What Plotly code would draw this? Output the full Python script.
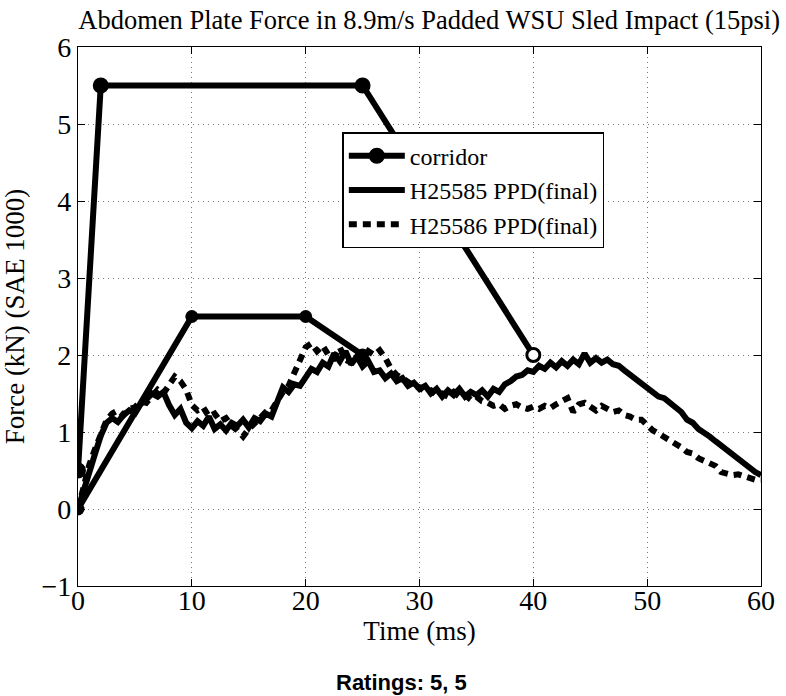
import plotly.graph_objects as go

# Corridor outline (time in ms, force in kN)
corridor_upper_t = [0, 2, 25, 40]
corridor_upper_f = [0.5, 5.5, 5.5, 2.0]
corridor_lower_t = [0, 10, 20, 25]
corridor_lower_f = [0.0, 2.5, 2.5, 2.0]

# Sample times (ms) for the two test traces
time_ms = [i * 0.5 for i in range(121)]

h25585 = [
    0.00, 0.22, 0.45, 0.72, 0.95, 1.12, 1.18, 1.13, 1.22, 1.28,
    1.24, 1.36, 1.42, 1.50, 1.46, 1.52, 1.35, 1.22, 1.30, 1.12,
    1.05, 1.14, 1.08, 1.20, 1.04, 1.10, 1.02, 1.12, 1.08, 1.16,
    1.06, 1.18, 1.14, 1.24, 1.20, 1.38, 1.58, 1.52, 1.62, 1.60,
    1.70, 1.82, 1.78, 1.90, 1.85, 2.02, 1.92, 2.05, 1.88, 1.98,
    1.85, 1.92, 1.78, 1.80, 1.70, 1.76, 1.66, 1.70, 1.60, 1.64,
    1.56, 1.60, 1.50, 1.56, 1.46, 1.54, 1.48, 1.56, 1.46, 1.52,
    1.48, 1.54, 1.46, 1.56, 1.52, 1.62, 1.66, 1.72, 1.74, 1.80,
    1.78, 1.86, 1.82, 1.90, 1.84, 1.92, 1.86, 1.94, 1.88, 2.02,
    1.90, 1.96, 1.90, 1.94, 1.88, 1.86, 1.80, 1.74, 1.70, 1.62,
    1.58, 1.50, 1.46, 1.44, 1.38, 1.30, 1.26, 1.16, 1.12, 1.04,
    1.00, 0.94, 0.88, 0.82, 0.78, 0.70, 0.66, 0.58, 0.54, 0.48,
    0.44,
]

h25586 = [
    0.00, 0.30, 0.58, 0.78, 0.98, 1.15, 1.24, 1.28, 1.22, 1.30,
    1.32, 1.40, 1.38, 1.48, 1.55, 1.50, 1.62, 1.72, 1.66, 1.55,
    1.35, 1.28, 1.32, 1.20, 1.24, 1.14, 1.18, 1.08, 1.02, 0.94,
    1.04, 1.10, 1.18, 1.26, 1.28, 1.40, 1.52, 1.60, 1.78, 1.92,
    2.10, 2.15, 2.05, 2.12, 2.00, 1.96, 2.10, 1.94, 1.90, 1.98,
    1.94, 2.05, 2.00, 2.06, 1.96, 1.82, 1.74, 1.70, 1.64, 1.60,
    1.58, 1.52, 1.54, 1.48, 1.50, 1.46, 1.52, 1.46, 1.48, 1.42,
    1.46, 1.40, 1.38, 1.34, 1.36, 1.30, 1.34, 1.36, 1.32, 1.30,
    1.33, 1.30, 1.34, 1.31, 1.36, 1.40, 1.44, 1.26, 1.36, 1.38,
    1.34, 1.28, 1.34, 1.30, 1.26, 1.28, 1.22, 1.20, 1.16, 1.16,
    1.08, 1.02, 0.98, 0.94, 0.88, 0.86, 0.80, 0.74, 0.72, 0.66,
    0.62, 0.60, 0.56, 0.48, 0.46, 0.44, 0.45, 0.42, 0.40, 0.38,
    0.38,
]

x_ticks = [0, 10, 20, 30, 40, 50, 60]
y_ticks = [-1, 0, 1, 2, 3, 4, 5, 6]
y_tick_text = ["\u22121", "0", "1", "2", "3", "4", "5", "6"]

SERIF = "Liberation Serif"
LW = 6

fig = go.Figure()

fig.add_trace(go.Scatter(
    x=corridor_upper_t, y=corridor_upper_f, mode="lines+markers",
    name="corridor", line=dict(color="black", width=LW),
    marker=dict(symbol="circle", size=13, color=["black", "black", "black", "white"],
                line=dict(color="black", width=3)),
))
fig.add_trace(go.Scatter(
    x=corridor_lower_t, y=corridor_lower_f, mode="lines+markers",
    name="corridor", showlegend=False, line=dict(color="black", width=LW),
    marker=dict(symbol="circle", size=13, color="black"),
))
fig.add_trace(go.Scatter(
    x=time_ms, y=h25585, mode="lines", name="H25585 PPD(final)",
    line=dict(color="black", width=LW),
))
fig.add_trace(go.Scatter(
    x=time_ms, y=h25586, mode="lines", name="H25586 PPD(final)",
    line=dict(color="black", width=LW, dash="8px,6px"),
))

axis_common = dict(
    showline=True, linecolor="black", linewidth=1.2, mirror="ticks",
    ticks="inside", ticklen=7, tickwidth=1, tickcolor="black",
    showgrid=True, gridcolor="#777777", gridwidth=1, griddash="1px,4px",
    zeroline=False, tickfont=dict(family=SERIF, size=28, color="black"),
)

fig.update_xaxes(
    range=[0, 60], tickvals=x_ticks, ticktext=[str(v) for v in x_ticks],
    ticklabelstandoff=-11,
    title=dict(text="Time (ms)", font=dict(family=SERIF, size=27, color="black"), standoff=0),
    **axis_common,
)
fig.update_yaxes(
    range=[-1, 6], tickvals=y_ticks, ticktext=y_tick_text,
    title=dict(text="Force (kN) (SAE 1000)", font=dict(family=SERIF, size=27, color="black"), standoff=10),
    **axis_common,
)

fig.update_layout(
    width=786, height=696,
    margin=dict(l=78, r=25, t=47, b=110),
    paper_bgcolor="white", plot_bgcolor="white",
    title=dict(
        text="Abdomen Plate Force in 8.9m/s Padded WSU Sled Impact (15psi)",
        font=dict(family=SERIF, size=26.5, color="black"),
        x=0.546, xanchor="center", y=0.972, yanchor="middle",
    ),
    legend=dict(
        x=0.387, y=0.842, xanchor="left", yanchor="top",
        bgcolor="white", bordercolor="black", borderwidth=1.5,
        font=dict(family=SERIF, size=24, color="black"),
        tracegroupgap=0, itemwidth=56,
        entrywidth=240, entrywidthmode="pixels",
    ),
    showlegend=True,
    annotations=[dict(
        text="<b>Ratings: 5, 5</b>", xref="paper", yref="paper",
        x=0.473, y=-0.179, xanchor="center", yanchor="middle", showarrow=False,
        font=dict(family="Liberation Sans", size=22, color="black"),
    )],
)

fig.write_html("out.html")
